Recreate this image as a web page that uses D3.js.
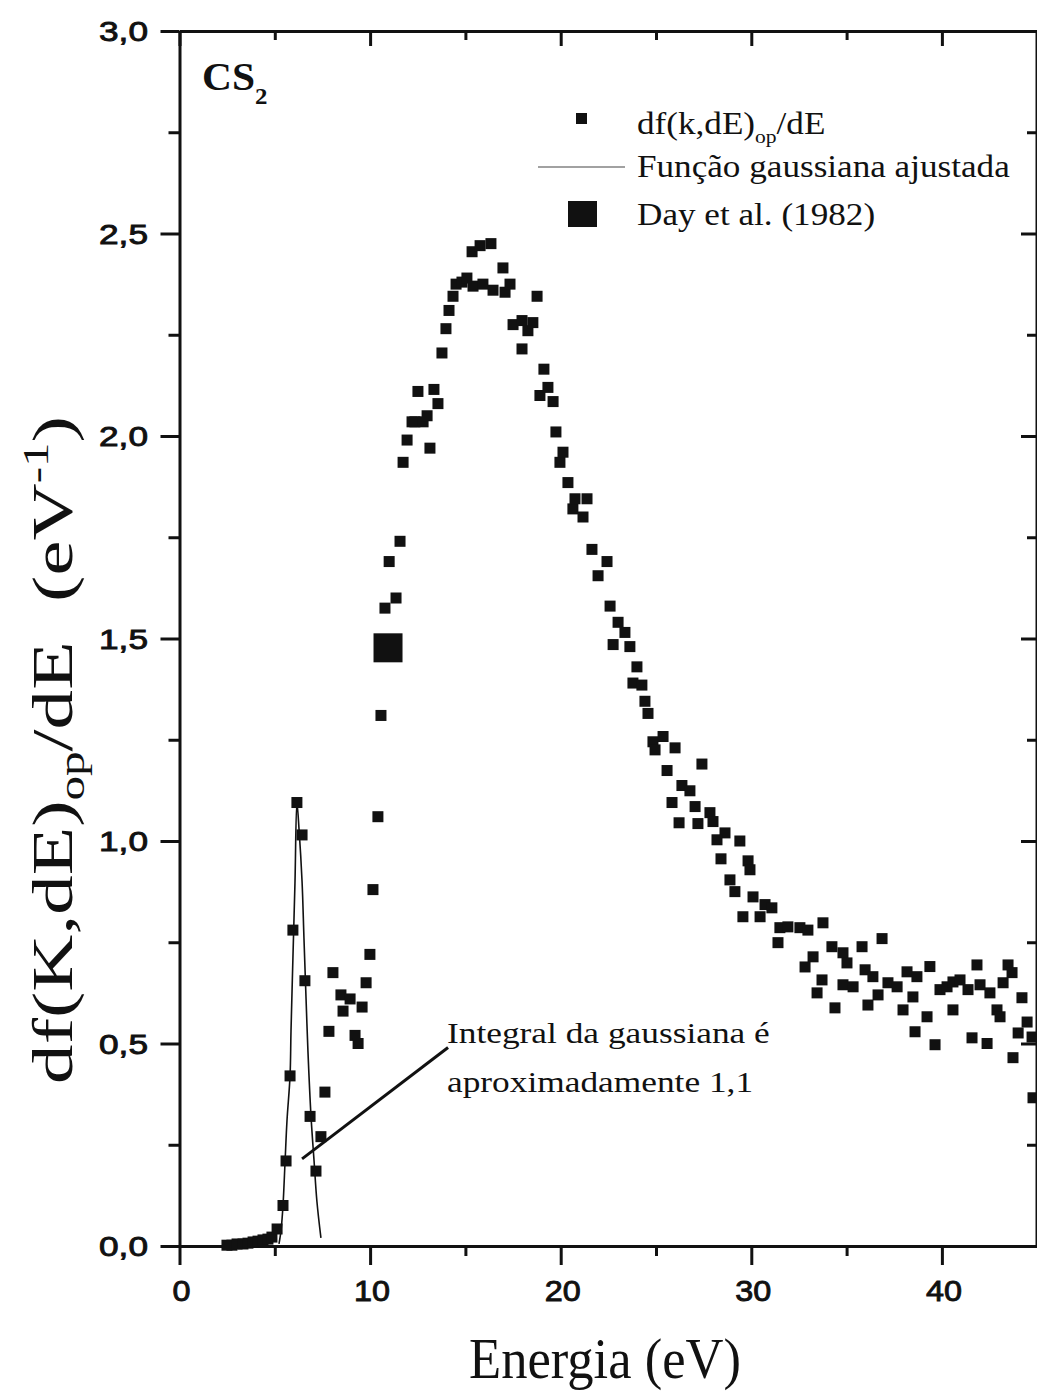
<!DOCTYPE html>
<html>
<head>
<meta charset="utf-8">
<script src="https://cdn.jsdelivr.net/npm/d3@7"></script>
<style>
  body { margin: 0; background: #fff; }
  svg { display: block; }
</style>
</head>
<body>
<div id="chart"></div>
<script>
// measured spectrum df(k,dE)op/dE vs energy (eV)
const energy = [
  2.49, 2.75, 3.02, 3.33, 3.59, 3.86, 4.12, 4.38, 4.64, 4.85,
  5.12, 5.43, 5.59, 5.80, 5.95, 6.16, 6.43, 6.58, 6.85, 7.16,
  7.42, 7.63, 7.84, 8.05, 8.47, 8.58, 8.95, 9.21, 9.37, 9.58,
  9.79, 9.99, 10.15, 10.41, 10.57, 10.78, 11.00, 11.36, 11.57,
  11.73, 11.94, 12.20, 12.35, 12.51, 12.78, 12.99, 13.14, 13.35, 13.56,
  13.77, 13.98, 14.14, 14.35, 14.51, 14.82, 15.08, 15.35, 15.40, 15.77,
  15.92, 16.34, 16.45, 16.97, 17.08, 17.34, 17.50, 17.97, 17.97, 18.28,
  18.54, 18.76, 18.91, 19.12, 19.33, 19.60, 19.75, 19.96, 20.12, 20.38,
  20.64, 20.75, 21.17, 21.38, 21.64, 21.96, 22.43, 22.59, 22.75, 23.01,
  23.37, 23.63, 24.00, 23.79, 24.26, 24.42, 24.58, 24.84, 24.95, 25.37,
  26.00, 25.58, 26.36, 26.78, 27.41, 25.84, 27.05, 27.83, 27.99, 26.21,
  27.20, 28.62, 28.20, 29.40, 28.41, 29.83, 29.93, 28.88, 29.14, 30.09,
  29.56, 30.46, 30.72, 31.08, 31.50, 31.92, 32.55, 32.97, 33.76, 31.40,
  33.24, 34.23, 34.81, 35.81, 36.86, 32.82, 35.02, 35.97, 36.38, 33.71,
  33.45, 34.81, 35.34, 37.17, 37.65, 36.65, 34.39, 36.12, 38.17, 38.69,
  39.37, 38.48, 37.96, 39.22, 38.59, 39.64, 39.90, 40.27, 40.58, 40.95,
  40.58, 41.37, 41.84, 42.00, 42.52, 41.58, 42.37, 42.89, 43.05, 43.21,
  43.47, 43.68, 44.20, 43.73, 44.00, 44.47, 44.73, 44.78
];
const dfop = [
  0.002, 0.002, 0.005, 0.005, 0.007, 0.010, 0.012, 0.015, 0.017, 0.022,
  0.042, 0.100, 0.210, 0.420, 0.780, 1.095, 1.015, 0.655, 0.320, 0.185,
  0.270, 0.380, 0.530, 0.675, 0.620, 0.580, 0.610, 0.520, 0.500, 0.590,
  0.650, 0.720, 0.880, 1.060, 1.310, 1.575, 1.690, 1.600, 1.740,
  1.935, 1.990, 2.035, 2.035, 2.110, 2.035, 2.050, 1.970, 2.115, 2.080,
  2.205, 2.265, 2.310, 2.345, 2.375, 2.380, 2.390, 2.455, 2.370, 2.470,
  2.375, 2.475, 2.360, 2.415, 2.355, 2.375, 2.275, 2.285, 2.215, 2.260,
  2.280, 2.345, 2.100, 2.165, 2.120, 2.085, 2.010, 1.935, 1.960, 1.885,
  1.820, 1.845, 1.800, 1.845, 1.720, 1.655, 1.690, 1.580, 1.485, 1.540,
  1.515, 1.480, 1.430, 1.390, 1.385, 1.345, 1.315, 1.245, 1.225, 1.258,
  1.230, 1.174, 1.137, 1.124, 1.190, 1.095, 1.085, 1.070, 1.048, 1.045,
  1.043, 1.020, 1.003, 1.000, 0.956, 0.951, 0.929, 0.904, 0.875, 0.862,
  0.813, 0.813, 0.843, 0.835, 0.786, 0.788, 0.786, 0.780, 0.798, 0.749,
  0.714, 0.739, 0.724, 0.739, 0.759, 0.689, 0.699, 0.682, 0.665, 0.657,
  0.625, 0.645, 0.640, 0.650, 0.640, 0.620, 0.588, 0.595, 0.677, 0.665,
  0.690, 0.615, 0.583, 0.566, 0.529, 0.497, 0.633, 0.640, 0.652, 0.657,
  0.583, 0.633, 0.694, 0.645, 0.625, 0.514, 0.500, 0.583, 0.566, 0.650,
  0.694, 0.675, 0.613, 0.465, 0.526, 0.553, 0.516, 0.366
];

// fitted gaussian
const gaussE = [5.22, 5.33, 5.43, 5.54, 5.64, 5.80, 5.85, 5.95, 6.06, 6.16,
                6.27, 6.43, 6.53, 6.64, 6.74, 6.90, 7.06, 7.21, 7.42];
const gaussY = [0.005, 0.04, 0.10, 0.21, 0.31, 0.42, 0.53, 0.71, 0.90, 1.095,
                1.03, 0.90, 0.76, 0.61, 0.48, 0.32, 0.21, 0.11, 0.02];

// Day et al. (1982)
const dayE = [10.94];
const dayY = [1.477];

const xTicks = [0, 10, 20, 30, 40];
const xMinor = [5, 15, 25, 35];
const yTicks = [0, 0.5, 1, 1.5, 2, 2.5, 3];
const yMinor = [0.25, 0.75, 1.25, 1.75, 2.25, 2.75];

const W = 1037, H = 1392;
const pLeft = 179.5, pRight = 1037.2, pTop = 31, pBottom = 1246;
const ink = "#111";
const serif = "'Liberation Serif', 'Times New Roman', serif";
const sans = "'Liberation Sans', Arial, sans-serif";

const svg = d3.select("#chart").append("svg")
  .attr("width", W).attr("height", H);

const x = d3.scaleLinear().domain([0, 45]).range([pLeft, pRight]);
const y = d3.scaleLinear().domain([0, 3]).range([pBottom, pTop]);

// horizontal stretch needed so a text spans `width` px
function fit(t, width) {
  const w = t.node().getComputedTextLength();
  return width / w;
}

// axes: frame + ticks
const bAxis = svg.append("g").attr("transform", `translate(0,${pBottom})`);
bAxis.call(d3.axisBottom(x).tickValues(xTicks).tickSize(19).tickSizeOuter(0).tickFormat(""));
bAxis.append("g").call(d3.axisBottom(x).tickValues(xMinor).tickSize(10).tickFormat(""))
  .select(".domain").remove();

const tAxis = svg.append("g").attr("transform", `translate(0,${pTop})`);
tAxis.call(d3.axisTop(x).tickValues(xTicks).tickSize(-15).tickSizeOuter(0).tickFormat(""));
tAxis.append("g").call(d3.axisTop(x).tickValues(xMinor).tickSize(-9).tickFormat(""))
  .select(".domain").remove();

const lAxis = svg.append("g").attr("transform", `translate(${pLeft},0)`);
lAxis.call(d3.axisLeft(y).tickValues(yTicks).tickSize(19).tickSizeOuter(0).tickFormat(""));
lAxis.append("g").call(d3.axisLeft(y).tickValues(yMinor).tickSize(11).tickFormat(""))
  .select(".domain").remove();

const rAxis = svg.append("g").attr("transform", `translate(1036,0)`);
rAxis.call(d3.axisRight(y).tickValues(yTicks).tickSize(-15).tickSizeOuter(0).tickFormat(""));
rAxis.append("g").call(d3.axisRight(y).tickValues(yMinor).tickSize(-9).tickFormat(""))
  .select(".domain").remove();

svg.selectAll(".domain").attr("stroke", ink).attr("stroke-width", 3);
svg.selectAll(".tick line").attr("stroke", ink).attr("stroke-width", 3);
rAxis.select(".domain").attr("stroke-width", 2);

// tick labels
const yLab = svg.append("g").selectAll("text").data(yTicks).join("text")
  .attr("font-family", sans).attr("font-size", 28)
  .attr("fill", ink).attr("stroke", ink).attr("stroke-width", 0.9)
  .attr("text-anchor", "end")
  .text(d => d3.format(".1f")(d).replace(".", ","));
const sy = fit(yLab.filter(d => d === 2.5), 49);
yLab.attr("transform", d => `translate(148,${y(d) + 10}) scale(${sy},1)`);

const xLab = svg.append("g").selectAll("text").data(xTicks).join("text")
  .attr("font-family", sans).attr("font-size", 29)
  .attr("fill", ink).attr("stroke", ink).attr("stroke-width", 0.9)
  .attr("text-anchor", "middle")
  .text(d => d);
const sx = fit(xLab.filter(d => d === 10), 36);
xLab.attr("transform", d => `translate(${x(d) + 2},1301) scale(${sx},1)`);

// axis titles
const xTitle = svg.append("text")
  .attr("font-family", serif).attr("font-size", 58).attr("fill", ink)
  .attr("text-anchor", "middle").text("Energia (eV)");
xTitle.attr("transform", `translate(605,1378) scale(${fit(xTitle, 272)},1)`);

const yTitle = svg.append("text")
  .attr("font-family", serif).attr("font-size", 58).attr("fill", ink)
  .attr("text-anchor", "middle");
yTitle.append("tspan").text("df(K,dE)");
yTitle.append("tspan").attr("font-size", 36).attr("dy", 12).text("op");
yTitle.append("tspan").attr("dy", -12).text("/dE\u00a0\u00a0(eV");
yTitle.append("tspan").attr("font-size", 36).attr("dy", -24).text("-1");
yTitle.append("tspan").attr("dy", 24).text(")");
yTitle.attr("transform", `translate(72,750) rotate(-90) scale(${fit(yTitle, 668)},1)`);

// gaussian fit
svg.append("path")
  .datum(d3.zip(gaussE, gaussY))
  .attr("fill", "none").attr("stroke", ink).attr("stroke-width", 1.6)
  .attr("d", d3.line().x(d => x(d[0])).y(d => y(d[1])).curve(d3.curveCatmullRom));

// pointer for the annotation
svg.append("line")
  .attr("x1", x(6.43)).attr("y1", y(0.215))
  .attr("x2", x(14.09)).attr("y2", y(0.49))
  .attr("stroke", ink).attr("stroke-width", 3);

// data points
const m = 11;
svg.append("g").selectAll("rect")
  .data(d3.zip(energy, dfop)).join("rect")
  .attr("x", d => x(d[0]) - m / 2).attr("y", d => y(d[1]) - m / 2)
  .attr("width", m).attr("height", m).attr("fill", ink);

const M = 29;
svg.append("g").selectAll("rect")
  .data(d3.zip(dayE, dayY)).join("rect")
  .attr("x", d => x(d[0]) - M / 2).attr("y", d => y(d[1]) - M / 2)
  .attr("width", M).attr("height", M).attr("fill", ink);

// annotation text
const ann1 = svg.append("text").attr("font-family", serif).attr("font-size", 30)
  .attr("fill", ink).text("Integral da gaussiana é");
const sa = fit(ann1, 323);
ann1.attr("transform", `translate(447,1043) scale(${sa},1)`);
svg.append("text").attr("font-family", serif).attr("font-size", 30)
  .attr("fill", ink).text("aproximadamente 1,1")
  .attr("transform", `translate(447,1092) scale(${sa},1)`);

// CS2 label
const cs = svg.append("text").attr("font-family", serif).attr("font-weight", "bold")
  .attr("font-size", 40).attr("fill", ink);
cs.append("tspan").text("CS");
const scs = fit(cs, 53);
cs.append("tspan").attr("font-size", 24).attr("dy", 14).text("2");
cs.attr("transform", `translate(202,90) scale(${scs},1)`);

// legend
const lg = svg.append("g");
lg.append("rect").attr("x", 576).attr("y", 113).attr("width", 11).attr("height", 11).attr("fill", ink);
lg.append("line").attr("x1", 538).attr("x2", 625).attr("y1", 167).attr("y2", 167)
  .attr("stroke", "#444").attr("stroke-width", 1.2);
lg.append("rect").attr("x", 568).attr("y", 201).attr("width", 29).attr("height", 26).attr("fill", ink);

const l2 = lg.append("text").attr("font-family", serif).attr("font-size", 31)
  .attr("fill", ink).text("Função gaussiana ajustada");
const sl = fit(l2, 373);
l2.attr("transform", `translate(637,177) scale(${sl},1)`);

const l1 = lg.append("text").attr("font-family", serif).attr("font-size", 31)
  .attr("fill", ink).attr("transform", `translate(637,134) scale(${sl},1)`);
l1.append("tspan").text("df(k,dE)");
l1.append("tspan").attr("font-size", 19).attr("dy", 9).text("op");
l1.append("tspan").attr("dy", -9).text("/dE");

lg.append("text").attr("font-family", serif).attr("font-size", 31)
  .attr("fill", ink).text("Day et al. (1982)")
  .attr("transform", `translate(637,225) scale(${sl},1)`);
</script>
</body>
</html>
